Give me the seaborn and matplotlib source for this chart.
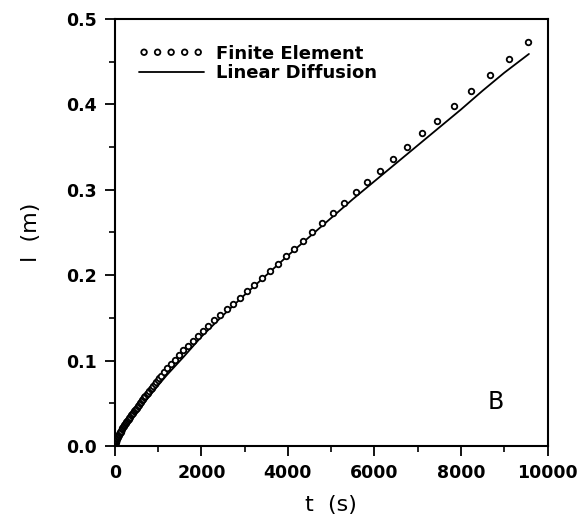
import matplotlib
matplotlib.use("Agg")
import matplotlib.pyplot as plt
import numpy as np
import pandas as pd
import seaborn as sns
from matplotlib.ticker import MultipleLocator

# finite element solution (t in s, l in m)
fe_t = [0, 3, 8, 12, 17, 22, 28, 35, 42, 50, 59, 68, 78, 88, 99, 110, 122,
        134, 147, 160, 174, 188, 203, 218, 234, 250, 266, 283, 300, 318, 336,
        355, 375, 395, 415, 435, 457, 480, 502, 525, 550, 575, 600, 625, 652,
        680, 707, 735, 765, 795, 825, 855, 888, 920, 955, 990, 1025, 1060,
        1135, 1215, 1300, 1390, 1485, 1585, 1690, 1800, 1915, 2035, 2160, 2290,
        2429, 2584, 2737, 2891, 3047, 3222, 3394, 3585, 3764, 3956, 4148, 4350,
        4560, 4788, 5035, 5296, 5566, 5836, 6120, 6436, 6760, 7106, 7453, 7829,
        8238, 8660, 9106, 9554]
fe_l = [0.0, 0.0015, 0.0028, 0.0035, 0.0043, 0.005, 0.006, 0.007, 0.008,
        0.009, 0.010, 0.011, 0.012, 0.013, 0.014, 0.015, 0.016, 0.017, 0.018,
        0.0195, 0.0207, 0.022, 0.0232, 0.0245, 0.0258, 0.027, 0.0282, 0.0295,
        0.0307, 0.032, 0.0332, 0.0345, 0.036, 0.0375, 0.039, 0.0405, 0.042,
        0.0435, 0.045, 0.0465, 0.0482, 0.05, 0.0517, 0.0535, 0.0552, 0.057,
        0.0587, 0.0605, 0.0625, 0.0645, 0.0665, 0.0685, 0.0707, 0.073, 0.0752,
        0.0775, 0.0797, 0.082, 0.0865, 0.091, 0.096, 0.101, 0.1065, 0.112,
        0.1175, 0.123, 0.129, 0.135, 0.141, 0.147, 0.1533, 0.160, 0.1659,
        0.1738, 0.1815, 0.1886, 0.1965, 0.205, 0.213, 0.222, 0.2306, 0.2405,
        0.251, 0.2615, 0.273, 0.285, 0.297, 0.309, 0.3225, 0.3355, 0.3505,
        0.366, 0.381, 0.3985, 0.416, 0.434, 0.453, 0.473]

# linear diffusion solution
ld_t = [0, 20, 60, 120, 200, 300, 450, 650, 900, 1200, 1600, 2000, 2500, 3000,
        3500, 4000, 4500, 5000, 5500, 6000, 6500, 7000, 7500, 8000, 8500, 9000,
        9570]
ld_l = [0.0, 0.004, 0.009, 0.0145, 0.021, 0.028, 0.037, 0.049, 0.065, 0.083,
        0.105, 0.128, 0.153, 0.177, 0.2, 0.223, 0.245, 0.267, 0.289, 0.31,
        0.331, 0.352, 0.373, 0.394, 0.416, 0.437, 0.459]

fe = pd.DataFrame({"t": fe_t, "l": fe_l})
ld = pd.DataFrame({"t": ld_t, "l": ld_l})

sns.set_style("ticks")
plt.rcParams["font.family"] = ["DejaVu Sans"]
plt.rcParams.update({"text.color": "black", "axes.labelcolor": "black",
                     "xtick.color": "black", "ytick.color": "black"})

fig = plt.figure(figsize=(5.8, 5.26), dpi=100)
ax = fig.add_axes([0.198, 0.152, 0.746, 0.812])

sns.scatterplot(data=fe, x="t", y="l", ax=ax, marker="o", s=16,
                facecolor="white", edgecolor="black", linewidth=1.3,
                label="Finite Element", zorder=3)
sns.lineplot(data=ld, x="t", y="l", ax=ax, color="black", linewidth=1.3,
             label="Linear Diffusion", zorder=2)

ax.set_xlim(0, 10000)
ax.set_ylim(0, 0.5)
ax.xaxis.set_major_locator(MultipleLocator(2000))
ax.xaxis.set_minor_locator(MultipleLocator(1000))
ax.yaxis.set_major_locator(MultipleLocator(0.1))
ax.yaxis.set_minor_locator(MultipleLocator(0.05))
ax.yaxis.set_major_formatter(plt.FormatStrFormatter("%.1f"))

ax.tick_params(which="major", direction="out", length=7, width=1.3,
               labelsize=12.5, pad=6)
ax.tick_params(which="minor", direction="out", length=4, width=1.2)
for lab in ax.get_xticklabels() + ax.get_yticklabels():
    lab.set_fontweight("bold")
for sp in ax.spines.values():
    sp.set_visible(True)
    sp.set_linewidth(1.5)
    sp.set_color("black")

ax.set_xlabel("t  (s)", fontsize=16, labelpad=9)
ax.set_ylabel("l  (m)", fontsize=16, labelpad=18)

ax.text(8800, 0.051, "B", fontsize=17, ha="center", va="center")

leg = ax.legend(loc="upper left", bbox_to_anchor=(0.055, 0.94), frameon=False,
                scatterpoints=5, scatteryoffsets=[0.5], handlelength=3.6,
                handletextpad=0.7, borderaxespad=0, borderpad=0,
                labelspacing=0.1, prop={"weight": "bold", "size": 13})

fig.savefig("out.png", dpi=100)
